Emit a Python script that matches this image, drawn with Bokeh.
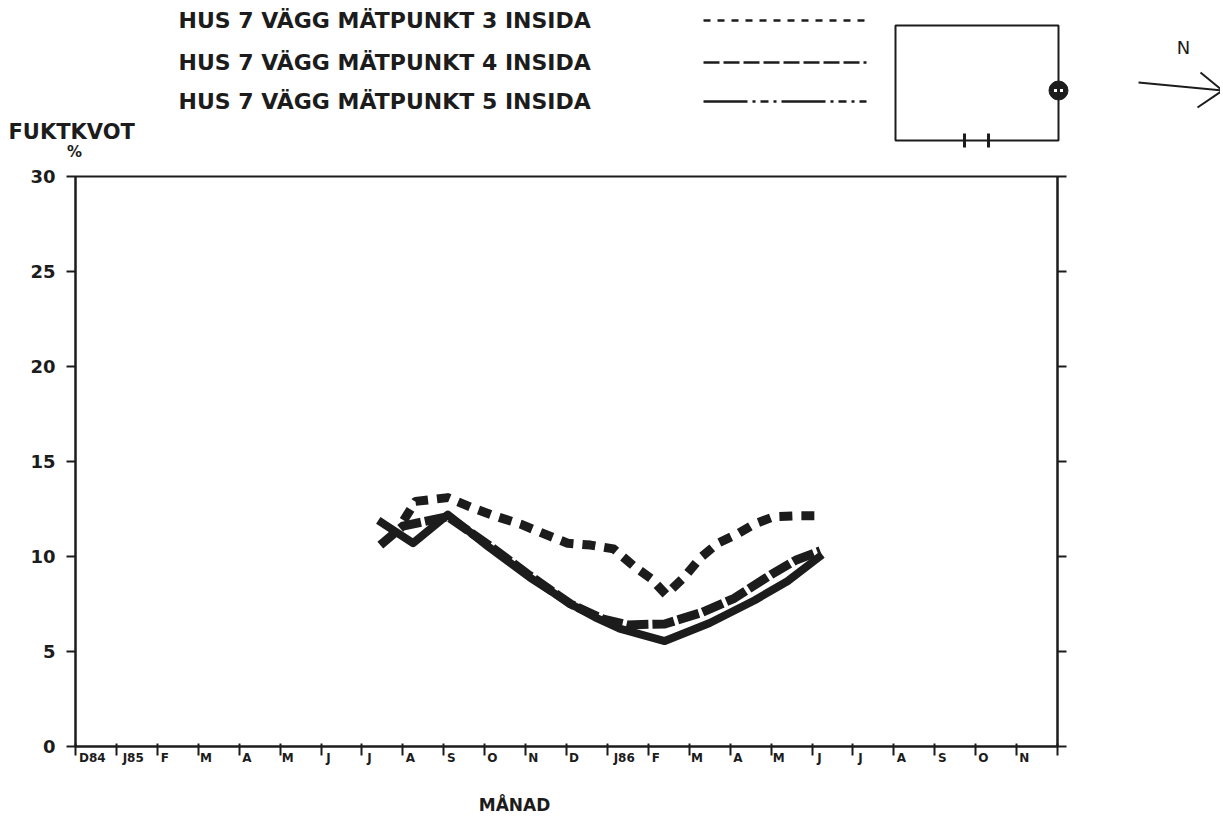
from bokeh.plotting import figure
from bokeh.models import Range1d, LinearAxis, FixedTicker, CustomJSTickFormatter
from bokeh.layouts import column
from bokeh.core.properties import value
from bokeh.embed import file_html
from bokeh.resources import INLINE

# ---------------- data ----------------
months = ["D84", "J85", "F", "M", "A", "M", "J", "J", "A", "S", "O", "N",
          "D", "J86", "F", "M", "A", "M", "J", "J", "A", "S", "O", "N"]
y_ticks = [0, 5, 10, 15, 20, 25, 30]
series_names = ["HUS 7 VÄGG MÄTPUNKT 3 INSIDA",
                "HUS 7 VÄGG MÄTPUNKT 4 INSIDA",
                "HUS 7 VÄGG MÄTPUNKT 5 INSIDA"]

# x = month index (0 = Dec 1984), y = fuktkvot %
mp3_x = [8.02, 8.31, 9.10, 9.66, 10.22, 10.88, 11.44, 12.03, 12.59, 13.15, 13.64,
         14.06, 14.43, 14.87, 15.28, 15.70, 16.19, 16.58, 17.07, 17.73, 18.17]
mp3_y = [11.9, 12.9, 13.1, 12.6, 12.15, 11.7, 11.2, 10.7, 10.6, 10.4, 9.5,
         8.85, 8.0, 8.9, 9.95, 10.7, 11.2, 11.7, 12.1, 12.15, 12.15]

mp4_x = [7.45, 8.0, 9.1, 10.1, 11.1, 12.1, 12.9, 13.5, 14.4, 15.3, 16.1, 17.0, 17.6, 18.2]
mp4_y = [10.6, 11.6, 12.1, 10.6, 9.0, 7.5, 6.7, 6.4, 6.45, 7.05, 7.8, 9.05, 9.8, 10.3]

mp5_x = [7.4, 8.25, 9.1, 10.1, 11.1, 12.1, 12.7, 13.3, 14.4, 15.5, 16.6, 17.4, 18.25]
mp5_y = [11.9, 10.7, 12.2, 10.5, 8.9, 7.5, 6.8, 6.2, 5.55, 6.5, 7.7, 8.7, 10.1]

INK = "#1c1c1c"
FONT = "DejaVu Sans"
W = 1220
TOP_H = 160


def blank(height, y0):
    f = figure(width=W, height=height, x_range=Range1d(0, W),
               y_range=Range1d(y0 + height, y0),
               output_backend="svg", toolbar_location=None,
               x_axis_location=None, y_axis_location=None, min_border=0,
               outline_line_color=None)
    f.frame_align = False
    f.xgrid.visible = False
    f.ygrid.visible = False
    return f


# ---------------- top (legend / sketch) figure ----------------
top = blank(TOP_H, 0)

leg_y = [20, 62, 101]
top.text(x=[178, 178, 178], y=leg_y, text=series_names, text_font=value(FONT),
         text_font_style="bold", text_font_size="22px", text_baseline="middle",
         text_align="left", text_color=INK)
leg_dash = ["7 7", "16 4", "44 5 3 5 8 5 3 5"]
for yy, dd in zip(leg_y, leg_dash):
    top.line([703, 866], [yy, yy], line_color=INK, line_width=2.5, line_dash=dd)

top.text(x=[8], y=[131], text=["FUKTKVOT"], text_font=value(FONT), text_font_size="21px",
         text_font_style="bold", text_baseline="middle", text_align="left", text_color=INK)
top.text(x=[74], y=[151], text=["%"], text_font=value(FONT), text_font_style="bold",
         text_font_size="15px", text_baseline="middle", text_align="center", text_color=INK)

# house sketch
top.quad(left=[895], right=[1058], top=[25], bottom=[140], fill_color=None,
         line_color=INK, line_width=2)
top.segment(x0=[964, 988], y0=[133, 133], x1=[964, 988], y1=[147, 147],
            line_color=INK, line_width=3)
top.scatter(x=[1058], y=[90], size=19, marker="circle", fill_color=INK, line_color=INK)
top.scatter(x=[1055, 1061], y=[90, 90], size=3, marker="square", fill_color="white",
            line_color=None)
top.text(x=[1183], y=[47], text=["N"], text_font=value(FONT), text_font_size="18px",
         text_baseline="middle", text_align="center", text_color=INK)
top.segment(x0=[1138, 1200, 1197], y0=[82, 72, 107], x1=[1222, 1222, 1222], y1=[90, 90, 90],
            line_color=INK, line_width=2)

# ---------------- main figure ----------------
FRAME_TOP, FRAME_BOTTOM = 176, 746
MAIN_BOTTOM_BORDER = 34
p = figure(width=W, height=(FRAME_BOTTOM - TOP_H) + MAIN_BOTTOM_BORDER,
           x_range=Range1d(0, 24), y_range=Range1d(0, 30),
           output_backend="svg", toolbar_location=None,
           x_axis_location=None, y_axis_location=None,
           min_border_left=75, min_border_right=W - 1057,
           min_border_top=FRAME_TOP - TOP_H, min_border_bottom=MAIN_BOTTOM_BORDER)
p.frame_align = False
p.xgrid.visible = False
p.ygrid.visible = False
p.outline_line_color = INK
p.outline_line_width = 2

ya = LinearAxis(ticker=FixedTicker(ticks=y_ticks), major_tick_in=0, major_tick_out=9,
                minor_tick_line_color=None, axis_line_width=2, axis_line_color=INK,
                major_tick_line_width=2, major_tick_line_color=INK,
                major_label_text_font=FONT, major_label_text_font_size="18px",
                major_label_text_font_style="bold",
                major_label_text_color=INK, major_label_standoff=11)
p.add_layout(ya, "left")

yr = LinearAxis(ticker=FixedTicker(ticks=y_ticks), major_tick_in=0, major_tick_out=9,
                minor_tick_line_color=None, axis_line_width=2, axis_line_color=INK,
                major_tick_line_width=2, major_tick_line_color=INK,
                major_label_text_font_size="0px", major_label_text_color=None)
p.add_layout(yr, "right")

xa = LinearAxis(ticker=FixedTicker(ticks=list(range(len(months) + 1))),
                major_tick_in=3, major_tick_out=9, minor_tick_line_color=None,
                axis_line_width=2, axis_line_color=INK,
                major_tick_line_width=2, major_tick_line_color=INK,
                major_label_text_font_size="0px", major_label_text_color=None,
                major_label_standoff=0)
p.add_layout(xa, "below")

label_pos = [i + (3 + 4.6 * len(m)) / 40.9 for i, m in enumerate(months)]
xl = LinearAxis(ticker=FixedTicker(ticks=label_pos),
                formatter=CustomJSTickFormatter(args=dict(labels=months),
                                                code="return labels[Math.floor(tick)];"),
                axis_line_color=None, major_tick_line_color=None, minor_tick_line_color=None,
                major_tick_in=0, major_tick_out=0, major_label_standoff=-5,
                major_label_text_font=FONT, major_label_text_font_style="bold",
                major_label_text_font_size="12px", major_label_text_color=INK)
p.add_layout(xl, "below")

p.line(mp5_x, mp5_y, line_color=INK, line_width=8, line_join="round")
p.line(mp4_x, mp4_y, line_color=INK, line_width=9, line_dash="22 4", line_join="round")
p.line(mp3_x, mp3_y, line_color=INK, line_width=9, line_dash="13 9", line_join="round")

# ---------------- bottom figure (x axis title) ----------------
BOT_Y0 = FRAME_BOTTOM + MAIN_BOTTOM_BORDER
bot = blank(815 - BOT_Y0, BOT_Y0)
bot.text(x=[514], y=[804], text=["MÅNAD"], text_font=value(FONT), text_font_size="17px",
         text_font_style="bold", text_baseline="middle", text_align="center", text_color=INK)

layout = column(top, p, bot)
open("out.html", "w").write(file_html(layout, INLINE))
